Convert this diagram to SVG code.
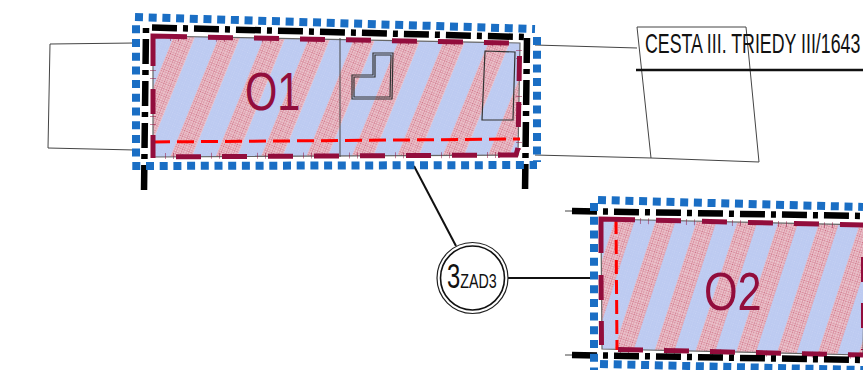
<svg xmlns="http://www.w3.org/2000/svg" width="863" height="370" viewBox="0 0 863 370">
<defs>
<pattern id="rd" width="2.4" height="2.4" patternUnits="userSpaceOnUse"><rect width="2.4" height="2.4" fill="#f2d6dc"/><circle cx="1.2" cy="1.2" r=".8" fill="#c65a72"/></pattern>
<pattern id="bd" width="2.4" height="2.4" patternUnits="userSpaceOnUse"><rect width="2.4" height="2.4" fill="#bccaf1"/><circle cx="1.2" cy="1.2" r=".5" fill="#cdd8f6"/></pattern>
<pattern id="h1" width="42" height="42" patternUnits="userSpaceOnUse" patternTransform="translate(173 38) rotate(22)"><rect width="42" height="42" fill="url(#bd)"/><rect width="20" height="42" fill="url(#rd)"/></pattern>
<pattern id="h2" width="39" height="39" patternUnits="userSpaceOnUse" patternTransform="translate(655 223) rotate(18)"><rect width="39" height="39" fill="url(#bd)"/><rect width="19" height="39" fill="url(#rd)"/></pattern>
</defs>
<style>
.thin{fill:none;stroke:#444;stroke-width:1}
.blue{fill:none;stroke:#1a6ec4;stroke-width:8;stroke-dasharray:8 5.7}
.blk{fill:none;stroke:#000;stroke-width:6.500;stroke-dasharray:25 6 5 6}
.gry{fill:none;stroke:#666;stroke-width:1.200}
.cr{fill:none;stroke:#920d3c;stroke-width:5;stroke-dasharray:25 21}
.crs{fill:none;stroke:#920d3c;stroke-width:5}
.tick{fill:none;stroke:#920d3c;stroke-width:6;stroke-dasharray:1 7 1 37;opacity:.5}
.red{fill:none;stroke:#f00;stroke-width:3;stroke-dasharray:17 7}
.lbl{font-family:"Liberation Sans",Arial,sans-serif}
.big{font-size:54px;fill:#920d3c}
.ln{fill:none;stroke:#111;stroke-width:2}
</style>
<g id="connectors">
<path class="thin" d="M135,43 L50,44 L48,148 L135,150"/>
<path class="thin" d="M535,45 L637,48"/>
<path class="thin" d="M535,155 L651,158"/>
<path class="ln" d="M414,166 L456,246"/>
<path class="ln" d="M508,278 L596,278"/>
</g>
<g id="node-road">
<path class="thin" d="M637,27 L746,27 L759,162 L651,158 Z"/>
<path d="M636,70 H863" fill="none" stroke="#111" stroke-width="2.400"/>
<text class="lbl" transform="translate(645 53) scale(.635 1)" font-size="28" fill="#111">CESTA III. TRIEDY III/1643</text>
</g>
<g id="node-o1">
<path d="M153,36 L520,43 L518,155 L153,157 Z" fill="url(#h1)"/>
<path class="gry" d="M153,36 L520,43 L518,155 L153,157 Z"/>
<path class="thin" d="M340,38 V157"/>
<path d="M373,53 H393 L392,99 H352 V75 H373 Z M375,55 H391 L390,97 H354 V77 H375 Z" fill="none" stroke="#333" stroke-width="1.200"/>
<path d="M485,51 L515,52 L513,120 L482,120 Z" fill="none" stroke="#333" stroke-width="1.200"/>
<path class="red" d="M153,142 L520,139"/>
<path class="tick" d="M170,38 L520,44"/>
<path class="tick" d="M165,156 L518,155"/>
<path class="tick" d="M153,70 V135"/>
<path class="tick" d="M519,50 V150"/>
<path class="crs" d="M153,66 V36 L187,36.700"/>
<path class="cr" d="M208,37.200 L520,43.200"/>
<path class="cr" d="M153,89 V135"/>
<path class="crs" d="M153,135 V158"/>
<path class="cr" d="M176,156.800 L500,155"/>
<path class="crs" d="M498,155 H516 L518,148"/>
<path class="cr" d="M519.500,56 L518,150"/>
<path class="blk" d="M152,27.500 L524,37"/>
<path class="blk" d="M146,28 L144,192" style="stroke-dashoffset:31"/>
<path class="blk" d="M527,38 L525,193"/>
<path class="blue" d="M135,17 L535,29"/>
<path class="blue" d="M136,25.300 V162"/>
<path class="blue" d="M537,37 V162"/>
<path class="blue" d="M132.300,166 L537,165"/>
<text class="lbl big" transform="translate(245 110) scale(.77 1)">O1</text>
</g>
<g id="node-o2">
<path d="M601,219 L865,225 L863,355 L602,349 Z" fill="url(#h2)"/>
<path class="gry" d="M601,219 L865,225 L863,355 L602,349 Z"/>
<path class="red" d="M616,220 L617,350" style="stroke-dasharray:14 6"/>
<path class="crs" d="M601,253 V219 L635,219.800"/>
<path class="cr" d="M656,220.300 L863,225"/>
<path class="cr" d="M601,275 L601.500,345"/>
<path class="cr" d="M618,349.500 L863,355"/>
<path class="cr" d="M862.500,257 V350" style="stroke-width:3"/>
<path class="tick" d="M640,221 L863,226"/>
<path class="tick" d="M620,350 L863,356"/>
<path class="thin" d="M565,211 H572 M565,355 H572"/>
<path class="blk" d="M572,211 L863,216"/>
<path class="blk" d="M572,355 L863,360"/>
<path class="blue" d="M598,200 L863,207"/>
<path class="blue" d="M594,203 V370"/>
<path class="blue" d="M600,364 L863,370"/>
<text class="lbl big" transform="translate(704 310) scale(.8 1)">O2</text>
</g>
<g id="node-zad3">
<circle cx="472.500" cy="278" r="35.500" fill="#fff" stroke="#222" stroke-width="1.200"/>
<circle cx="472.500" cy="278" r="32" fill="#fff" stroke="#111" stroke-width="1.600"/>
<text class="lbl" transform="translate(447 288) scale(.68 1)" font-size="35" fill="#111">3<tspan font-size="21">ZAD3</tspan></text>
</g>
</svg>
